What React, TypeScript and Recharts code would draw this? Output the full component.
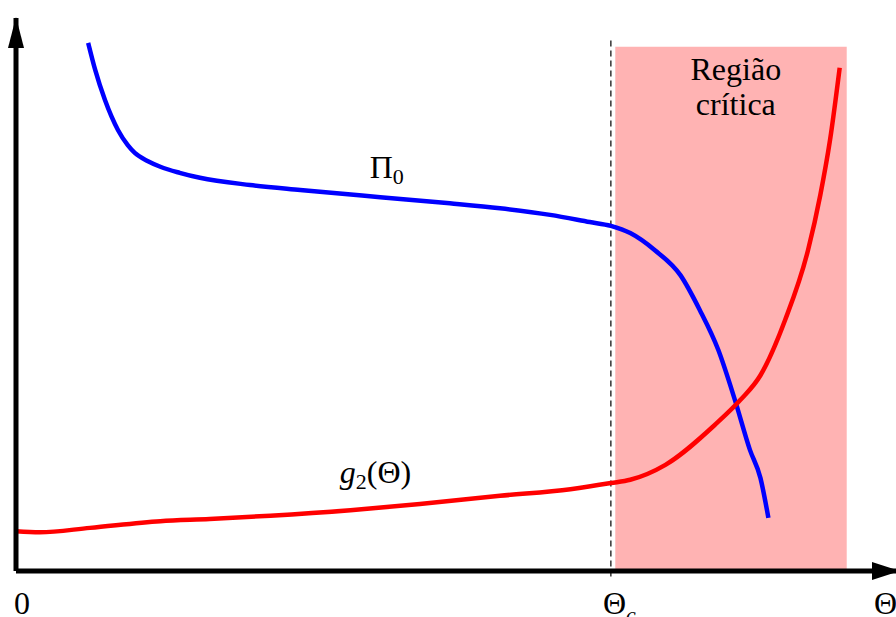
import React from "react";
import {
  LineChart,
  Line,
  XAxis,
  YAxis,
  ReferenceArea,
  ReferenceLine,
  ReferenceDot,
} from "recharts";

// Θ along the horizontal axis, arbitrary units on the vertical one
const thetaC = 6.76;
const xMax = 10;
const yMax = 10;

// Π0 curve
const pi0X = [0.82, 0.9, 1.01, 1.16, 1.27, 1.35, 1.5, 1.64, 1.86, 2.09, 2.66, 3.23, 4.14, 4.93, 5.5, 6.07, 6.52, 6.76, 6.98, 7.26, 7.55, 7.77, 7.98, 8.17, 8.34, 8.46, 8.55];
const pi0Y = [9.55, 9.06, 8.52, 7.97, 7.7, 7.56, 7.41, 7.31, 7.2, 7.11, 6.98, 6.89, 6.76, 6.65, 6.56, 6.44, 6.31, 6.24, 6.11, 5.8, 5.35, 4.72, 4.0, 3.09, 2.19, 1.68, 0.96];

// g2(Θ) curve
const g2X = [0, 0.27, 0.84, 1.64, 2.2, 2.89, 3.8, 4.59, 5.5, 6.3, 6.76, 6.98, 7.38, 7.94, 8.23, 8.46, 8.74, 9.0, 9.14, 9.25, 9.36];
const g2Y = [0.72, 0.7, 0.78, 0.9, 0.94, 1.0, 1.1, 1.21, 1.36, 1.48, 1.59, 1.65, 1.92, 2.64, 3.09, 3.54, 4.54, 5.8, 6.8, 7.79, 9.1];

// critical region bounds
const regionX = [6.81, 9.44];
const regionTop = 9.48;

const pi0Data = pi0X.map((x, i) => ({ x, y: pi0Y[i] }));
const g2Data = g2X.map((x, i) => ({ x, y: g2Y[i] }));

const FONT = "'Liberation Serif', 'DejaVu Serif', serif";

const AxisTick = (props: any) => {
  const { x, payload } = props;
  const v = payload.value;
  let content: React.ReactNode;
  let dx = -8;
  if (v === 0) {
    content = "0";
    dx = -2;
  } else if (v === thetaC) {
    content = (
      <>
        Θ
        <tspan fontStyle="italic" fontSize={22} dy={8}>c</tspan>
      </>
    );
  } else {
    content = "Θ";
    dx = -14;
  }
  return (
    <text x={x + dx} y={614} fontFamily={FONT} fontSize={32} fill="#000">
      {content}
    </text>
  );
};

const rightArrow = (props: any) => {
  const { cx, cy } = props;
  return <polygon points={`${cx + 4},${cy} ${cx - 24},${cy - 9} ${cx - 24},${cy + 9}`} fill="#000" />;
};

const upArrow = (props: any) => {
  const { cx, cy } = props;
  return <polygon points={`${cx},${cy - 1} ${cx - 8},${cy + 30} ${cx + 8},${cy + 30}`} fill="#000" />;
};

const textShape = (render: (cx: number, cy: number) => React.ReactNode) => (props: any) =>
  <g>{render(props.cx, props.cy)}</g>;

export default function App() {
  return (
    <div style={{ position: "absolute", left: 0, top: 0, background: "#fff" }}>
      <LineChart
        width={896}
        height={617}
        margin={{ top: 18, right: 0, bottom: 0, left: 0 }}
      >
        <XAxis
          type="number"
          dataKey="x"
          domain={[0, xMax]}
          ticks={[0, thetaC, xMax]}
          tick={<AxisTick />}
          tickLine={false}
          axisLine={{ stroke: "#000", strokeWidth: 5 }}
          height={46}
          allowDataOverflow
        />
        <YAxis
          type="number"
          dataKey="y"
          domain={[0, yMax]}
          tick={false}
          tickLine={false}
          axisLine={{ stroke: "#000", strokeWidth: 5 }}
          width={16}
          allowDataOverflow
        />
        <ReferenceArea
          x1={regionX[0]}
          x2={regionX[1]}
          y1={0}
          y2={regionTop}
          fill="#ffb3b3"
          fillOpacity={1}
          stroke="none"
          ifOverflow="visible"
        />
        <ReferenceLine
          segment={[{ x: thetaC, y: -0.1 }, { x: thetaC, y: 9.66 }]}
          stroke="#000"
          strokeWidth={1.2}
          strokeDasharray="6 4"
          ifOverflow="visible"
        />
        <Line
          data={pi0Data}
          dataKey="y"
          type="monotone"
          stroke="#0000ff"
          strokeWidth={4.5}
          dot={false}
          isAnimationActive={false}
        />
        <Line
          data={g2Data}
          dataKey="y"
          type="monotone"
          stroke="#ff0000"
          strokeWidth={4.5}
          dot={false}
          isAnimationActive={false}
        />
        <ReferenceDot x={xMax} y={0} r={0} ifOverflow="visible" shape={rightArrow} />
        <ReferenceDot x={0} y={yMax} r={0} ifOverflow="visible" shape={upArrow} />
        <ReferenceDot
          x={4.02}
          y={7.11}
          ifOverflow="visible"
          shape={textShape((cx, cy) => (
            <text x={cx} y={cy} fontFamily={FONT} fontSize={32} fill="#000">
              Π<tspan fontSize={22} dy={6}>0</tspan>
            </text>
          ))}
        />
        <ReferenceDot
          x={3.68}
          y={1.59}
          ifOverflow="visible"
          shape={textShape((cx, cy) => (
            <text x={cx} y={cy} fontFamily={FONT} fontSize={32} fill="#000">
              <tspan fontStyle="italic">g</tspan>
              <tspan fontSize={22} dy={6}>2</tspan>
              <tspan dy={-6}>(Θ)</tspan>
            </text>
          ))}
        />
        <ReferenceDot
          x={8.18}
          y={8.88}
          ifOverflow="visible"
          shape={textShape((cx, cy) => (
            <text x={cx} y={cy} fontFamily={FONT} fontSize={32} fill="#000" textAnchor="middle">
              <tspan x={cx}>Região</tspan>
              <tspan x={cx} dy={35}>crítica</tspan>
            </text>
          ))}
        />
      </LineChart>
    </div>
  );
}
